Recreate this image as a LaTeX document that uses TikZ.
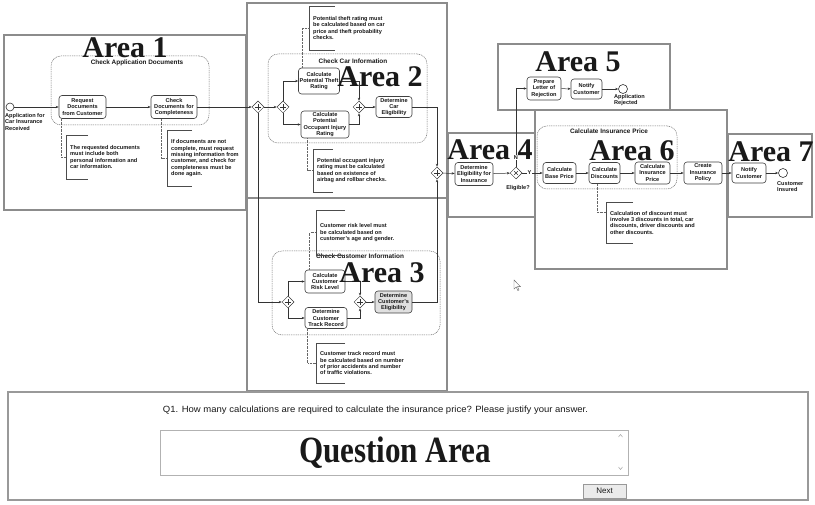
\documentclass[tikz,border=0pt]{standalone}
\usepackage{fontspec}
\setmainfont{Liberation Sans}
\newfontfamily\areafont{Liberation Serif}
\usetikzlibrary{shapes.geometric,arrows.meta,calc}
\newcommand\dfont{\fontsize{5.6}{6.4}\selectfont\bfseries}
\newcommand\tfont{\fontsize{6.4}{7}\selectfont\bfseries}
\newcommand\afont{\areafont\bfseries\fontsize{30}{30}\selectfont}
\newcommand\brk[2]{\draw[brkline] ([xshift=#2]#1.north west) -- (#1.north west) -- (#1.south west) -- ([xshift=#2]#1.south west);}
\begin{document}
\begin{tikzpicture}[x=1pt,y=-1pt,
  frame/.style={draw=black!45, line width=2.5pt},
  qframe/.style={draw=black!40, line width=2pt},
  sub/.style={rectangle, draw=black!55, dash pattern=on 1pt off 0.8pt, line width=0.5pt, rounded corners=10pt, inner sep=0},
  task/.style={rectangle, draw=black!75, line width=0.6pt, rounded corners=3pt, fill=white, align=center, font=\dfont, inner sep=0.5pt, text=black!90},
  gwp/.style={diamond, draw=black!80, line width=0.5pt, fill=white, minimum width=12pt, minimum height=12pt, inner sep=0pt,
    path picture={\draw[line width=0.9pt] ([xshift=-2.6pt]path picture bounding box.center) -- ([xshift=2.6pt]path picture bounding box.center);
                  \draw[line width=0.9pt] ([yshift=-2.6pt]path picture bounding box.center) -- ([yshift=2.6pt]path picture bounding box.center);}},
  gwx/.style={diamond, draw=black!80, line width=0.5pt, fill=white, minimum width=12pt, minimum height=12pt, inner sep=0pt,
    path picture={\draw[line width=0.6pt] ([shift={(-1.8pt,-1.8pt)}]path picture bounding box.center) -- ([shift={(1.8pt,1.8pt)}]path picture bounding box.center);
                  \draw[line width=0.6pt] ([shift={(-1.8pt,1.8pt)}]path picture bounding box.center) -- ([shift={(1.8pt,-1.8pt)}]path picture bounding box.center);}},
  event/.style={circle, draw=black!80, line width=0.6pt, fill=white, minimum size=8pt, inner sep=0pt},
  flow/.style={draw=black!80, line width=0.5pt, -{Stealth[length=3pt,width=2.4pt]}},
  assoc/.style={draw=black!60, line width=0.5pt, dash pattern=on 0.6pt off 0.8pt},
  brkline/.style={draw=black!70, line width=0.5pt},
  annot/.style={anchor=north west, align=left, font=\dfont, inner xsep=4pt, inner ysep=0pt, text=black!90},
  lbl/.style={font=\dfont, align=left, inner sep=0pt, anchor=north west, text=black!90},
  subt/.style={font=\tfont, inner sep=0pt, text=black!90},
  arealbl/.style={anchor=base, font=\afont, inner sep=0pt, text=black!90},
  flag/.style={font=\dfont, inner sep=0.6pt, fill=white, text=black!90}
]
\fill[white] (0,0) rectangle (815,505);
\useasboundingbox (0,0) rectangle (815,505);

% ---------- area frames ----------
\draw[frame] (4,35) rectangle (246,210);
\draw[frame] (247,3) rectangle (447,198);
\draw[frame] (247,198) rectangle (447,391);
\draw[frame] (448,133) rectangle (535,217);
\draw[frame] (498,44) rectangle (670,110);
\draw[frame] (535,110) rectangle (727,269);
\draw[frame] (728,134) rectangle (812,217);
\draw[qframe] (8,392) rectangle (808,500);

% ---------- Area 1 ----------
\node[sub, minimum width=158, minimum height=69] (sp1) at (130,90.5) {};
\node[subt] (sp1t) at (137,63) {Check Application Documents};
\node[event] (st) at (10,107) {};
\node[lbl] (stl) at (5,113) {Application for\\Car Insurance\\Received};
\node[task, minimum width=47, minimum height=23] (req) at (82.5,107) {Request\\Documents\\from Customer};
\node[task, minimum width=46, minimum height=23] (chk) at (174,107) {Check\\Documents for\\Completeness};
\node[annot, minimum height=44] (an1) at (66,135) {The requested documents\\must include both\\personal information and\\car information.};
\node[annot, minimum height=56] (an2) at (167,130) {If documents are not\\complete, must request\\missing information from\\customer, and check for\\completeness must be\\done again.};

% ---------- Area 2 ----------
\node[sub, minimum width=159, minimum height=89] (sp2) at (347.5,98.5) {};
\node[subt] (sp2t) at (353,61) {Check Car Information};
\node[gwp] (gw1) at (258,107) {};
\node[gwp] (gw2) at (283,107) {};
\node[gwp] (gw3) at (359,107) {};
\node[task, minimum width=41, minimum height=26] (theft) at (319,81) {Calculate\\Potential Theft\\Rating};
\node[task, minimum width=48, minimum height=27] (occ) at (325,124.5) {Calculate\\Potential\\Occupant Injury\\Rating};
\node[task, minimum width=36, minimum height=21] (carel) at (394,107) {Determine\\Car\\Eligibility};
\node[annot, minimum height=44] (anT) at (309,6) {Potential theft rating must\\be calculated based on car\\price and theft probability\\checks.};
\node[annot, minimum height=43] (anO) at (313,149) {Potential occupant injury\\rating must be calculated\\based on existence of\\airbag and rollbar checks.};

% ---------- Area 3 ----------
\node[sub, minimum width=168, minimum height=84] (sp3) at (356,293) {};
\node[subt] (sp3t) at (360,256) {Check Customer Information};
\node[gwp] (gw4) at (288,302) {};
\node[gwp] (gw5) at (360,302) {};
\node[task, minimum width=40, minimum height=23] (risk) at (325,281.5) {Calculate\\Customer\\Risk Level};
\node[task, minimum width=42, minimum height=21] (track) at (326,318) {Determine\\Customer\\Track Record};
\node[task, minimum width=37, minimum height=22, fill=black!12] (custel) at (393.5,302) {Determine\\Customer's\\Eligibility};
\node[annot, minimum height=45] (anR) at (316,210) {Customer risk level must\\be calculated based on\\customer's age and gender.};
\node[annot, minimum height=40] (anK) at (316,343) {Customer track record must\\be calculated based on number\\of prior accidents and number\\of traffic violations.};

% ---------- Area 4 ----------
\node[gwp] (gwj) at (437,173) {};
\node[task, minimum width=38, minimum height=23] (elig) at (474,174) {Determine\\Eligibility for\\Insurance};
\node[gwx] (gwe) at (516,173) {};
\node[font=\dfont, inner sep=0pt, text=black!90] (eliq) at (518,188) {Eligible?};

% ---------- Area 5 ----------
\node[task, minimum width=34, minimum height=23] (prep) at (544,88.5) {Prepare\\Letter of\\Rejection};
\node[task, minimum width=31, minimum height=20] (noti1) at (586.5,89) {Notify\\Customer};
\node[event, minimum size=9pt] (en1) at (623,89) {};
\node[lbl] (en1l) at (614,94) {Application\\Rejected};

% ---------- Area 6 ----------
\node[sub, minimum width=140, minimum height=63] (sp6) at (607,157.5) {};
\node[subt] (sp6t) at (609,131) {Calculate Insurance Price};
\node[task, minimum width=33, minimum height=21] (base) at (559.5,173) {Calculate\\Base Price};
\node[task, minimum width=31, minimum height=21] (disc) at (604.5,173) {Calculate\\Discounts};
\node[task, minimum width=35, minimum height=22] (iprice) at (652.5,173) {Calculate\\Insurance\\Price};
\node[task, minimum width=38, minimum height=22] (pol) at (703,173) {Create\\Insurance\\Policy};
\node[annot, minimum height=41] (anD) at (606,202) {Calculation of discount must\\involve 3 discounts in total, car\\discounts, driver discounts and\\other discounts.};

% ---------- Area 7 ----------
\node[task, minimum width=34, minimum height=20] (noti2) at (749,173) {Notify\\Customer};
\node[event, minimum size=9pt] (en2) at (783,173) {};
\node[lbl] (en2l) at (777,181) {Customer\\Insured};

% ---------- sequence flows ----------
\draw[flow] (st) -- (req);
\draw[flow] (req) -- (chk);
\draw[flow] (chk) -- (gw1);
\draw[flow] (gw1) -- (gw2);
\draw[flow] (gw2.north) |- (theft.west);
\draw[flow] (gw2.south) |- (occ.west);
\draw[flow] (theft.east) -| (gw3.north);
\draw[flow] (occ.east) -| (gw3.south);
\draw[flow] (gw3) -- (carel);
\draw[flow] (carel.east) -| (gwj.north);
\draw[flow] (gw1.south) |- (gw4.west);
\draw[flow] (gw4.north) |- (risk.west);
\draw[flow] (gw4.south) |- (track.west);
\draw[flow] (risk.east) -| (gw5.north);
\draw[flow] (track.east) -| (gw5.south);
\draw[flow] (gw5) -- (custel);
\draw[flow] (custel.east) -| (gwj.south);
\draw[flow] (gwj) -- (elig);
\draw[flow] (elig) -- (gwe);
\draw[flow] (gwe.north) |- (prep.west) node[flag, pos=0.06] (nlab) {N};
\draw[flow] (gwe.east) -- (base.west) node[flag, pos=0.35] (ylab) {Y};
\draw[flow] (prep) -- (noti1);
\draw[flow] (noti1) -- (en1);
\draw[flow] (base) -- (disc);
\draw[flow] (disc) -- (iprice);
\draw[flow] (iprice) -- (pol);
\draw[flow] (pol) -- (noti2);
\draw[flow] (noti2) -- (en2);

% ---------- annotations ----------
\brk{an1}{22}\brk{an2}{25}\brk{anT}{26}\brk{anO}{20}\brk{anR}{29}\brk{anK}{29}\brk{anD}{27}
\draw[assoc] ([xshift=3pt]req.south west) |- (an1.west);
\draw[assoc] ([xshift=11pt]chk.south west) |- (an2.west);
\draw[assoc] ([xshift=4pt]theft.north west) |- (anT.west);
\draw[assoc] ([xshift=7pt]occ.south west) |- (anO.west);
\draw[assoc] ([xshift=5pt]risk.north west) |- (anR.west);
\draw[assoc] ([xshift=3pt]track.south west) |- (anK.west);
\draw[assoc] ([xshift=9pt]disc.south west) |- ([yshift=10pt]anD.west);

% ---------- cursor ----------
\draw[black!60, fill=white, line width=0.4pt] (514,280) -- (514,289) -- (516.2,287) -- (517.8,290.5) -- (519,290) -- (517.5,286.6) -- (520.5,286.6) -- cycle;

% ---------- question area ----------
\node[inner sep=0pt, text=black!90] (qtext) at (375.5,410) {\resizebox{425pt}{\height}{\fontsize{9}{10}\selectfont Q1. How many calculations are required to calculate the insurance price? Please justify your answer.}};
\node[rectangle, draw=black!30, line width=0.6pt, minimum width=468, minimum height=45, inner sep=0pt] (tbox) at (394,452.5) {};
\node[inner sep=0pt, text=black!90] (qarea) at (395,453) {\resizebox{192pt}{\height}{\areafont\bfseries\fontsize{37}{37}\selectfont Question Area}};
\draw[black!35, line width=0.5pt] (618.5,437) -- (620.5,434.5) -- (622.5,437);
\draw[black!35, line width=0.5pt] (618.5,467) -- (620.5,469.5) -- (622.5,467);
\node[rectangle, draw=black!40, fill=black!8, line width=0.5pt, minimum width=43, minimum height=14, inner sep=0pt, font=\fontsize{8}{9}\selectfont, text=black!90] (next) at (604.5,491) {Next};

% ---------- area labels ----------
\node[arealbl] (l1) at (125,58) {Area 1};
\node[arealbl] (l2) at (380,87) {Area 2};
\node[arealbl] (l3) at (382,283) {Area 3};
\node[arealbl] (l4) at (490,160) {Area 4};
\node[arealbl] (l5) at (578,72) {Area 5};
\node[arealbl] (l6) at (632,161) {Area 6};
\node[arealbl] (l7) at (771,162) {Area 7};
\end{tikzpicture}
\end{document}
